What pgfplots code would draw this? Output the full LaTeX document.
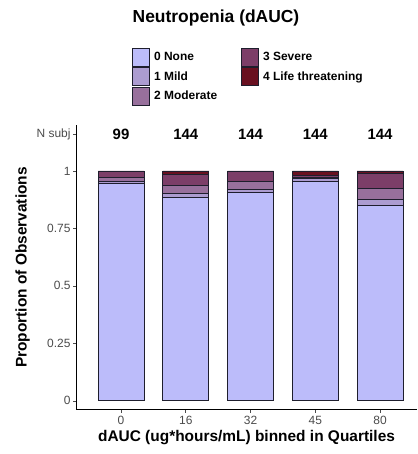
\documentclass[border=0pt]{standalone}
\usepackage{pgfplots}
\pgfplotsset{compat=1.18}
\usepackage{fontspec}
\setmainfont{Liberation Sans}
\definecolor{c0}{RGB}{188,188,250}
\definecolor{c1}{RGB}{172,156,208}
\definecolor{c2}{RGB}{152,112,156}
\definecolor{c3}{RGB}{124,62,104}
\definecolor{c4}{RGB}{105,16,32}
\definecolor{tickgray}{RGB}{75,75,75}
\definecolor{edge}{RGB}{30,30,45}
\begin{document}
\begin{tikzpicture}[x=1bp,y=1bp]
\useasboundingbox (0,0) rectangle (417,454);
\node[font=\fontsize{17.5}{20}\selectfont\bfseries] at (216,436) {Neutropenia (dAUC)};
\begin{axis}[
  at={(76bp,44bp)}, anchor=south west,
  scale only axis, width=341bp, height=285bp,
  ybar stacked, bar width=0.71,
  xmin=-0.695, xmax=4.57, ymin=-0.04, ymax=1.2,
  axis lines=left, axis line style={-, black, line width=1bp},
  xtick={0,1,2,3,4}, xticklabels={0,16,32,45,80},
  ytick={0,0.25,0.5,0.75,1,1.16}, yticklabels={0,0.25,0.5,0.75,1,N subj},
  tick align=outside, major tick length=3bp, tick style={tickgray, line width=0.6bp},
  ticklabel style={font=\fontsize{12}{14}\selectfont, text=tickgray},
  yticklabel style={xshift=1bp},
  /pgf/number format/assume math mode=true,
  xlabel={dAUC (ug*hours/mL) binned in Quartiles},
  ylabel={Proportion of Observations},
  label style={font=\fontsize{15.5}{18}\selectfont\bfseries},
  xlabel style={yshift=2bp},
  legend style={at={(0.5,1)}, anchor=south, yshift=17bp, xshift=2bp, draw=none, fill=none,
    font=\fontsize{12}{14}\selectfont\bfseries, row sep=0.5bp,
    /tikz/every even column/.append style={column sep=22bp},
    /tikz/every odd column/.append style={column sep=2bp}},
  legend cell align=left, transpose legend, legend columns=3,
  legend image code/.code={\draw[#1,draw=edge,line width=0.9bp] (0bp,-9bp) rectangle (17bp,9bp);},
]
\addplot[fill=c0, draw=edge, line width=0.9bp] coordinates {(0,0.945) (1,0.883) (2,0.905) (3,0.956) (4,0.850)};
\addplot[fill=c1, draw=edge, line width=0.9bp] coordinates {(0,0.010) (1,0.021) (2,0.016) (3,0.012) (4,0.025)};
\addplot[fill=c2, draw=edge, line width=0.9bp] coordinates {(0,0.018) (1,0.032) (2,0.035) (3,0.004) (4,0.050)};
\addplot[fill=c3, draw=edge, line width=0.9bp] coordinates {(0,0.027) (1,0.047) (2,0.044) (3,0.008) (4,0.065)};
\addplot[fill=c4, draw=edge, line width=0.9bp] coordinates {(0,0.000) (1,0.017) (2,0.000) (3,0.020) (4,0.010)};
\legend{0 None, 1 Mild, 2 Moderate, 3 Severe, 4 Life threatening}
\node[font=\fontsize{15}{17}\selectfont\bfseries] at (axis cs:0,1.16) {99};
\node[font=\fontsize{15}{17}\selectfont\bfseries] at (axis cs:1,1.16) {144};
\node[font=\fontsize{15}{17}\selectfont\bfseries] at (axis cs:2,1.16) {144};
\node[font=\fontsize{15}{17}\selectfont\bfseries] at (axis cs:3,1.16) {144};
\node[font=\fontsize{15}{17}\selectfont\bfseries] at (axis cs:4,1.16) {144};
\end{axis}
\end{tikzpicture}
\end{document}
